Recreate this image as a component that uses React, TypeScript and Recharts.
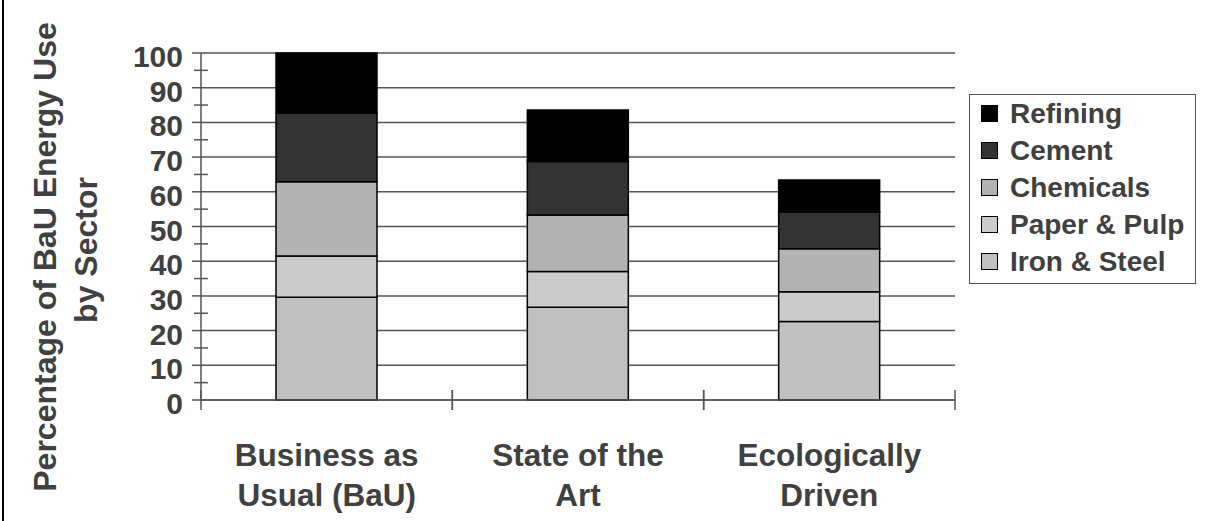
import React from "react";
import { BarChart, Bar, XAxis, YAxis, CartesianGrid, Legend } from "recharts";

// Scenario categories, each label split over two lines
const categoryLines: string[][] = [
  ["Business as", "Usual (BaU)"],
  ["State of the", "Art"],
  ["Ecologically", "Driven"],
];

// Share of BaU energy use by sector (%)
const ironSteel = [29.6, 26.7, 22.6];
const paperPulp = [11.9, 10.3, 8.6];
const chemicals = [21.4, 16.3, 12.4];
const cement = [19.8, 15.4, 10.6];
const refining = [17.3, 14.9, 9.2];

const sectorNames = ["Iron & Steel", "Paper & Pulp", "Chemicals", "Cement", "Refining"];
const sectorKeys = ["iron", "paper", "chem", "cement", "refining"];
const sectorColors = ["#c0c0c0", "#cbcbcb", "#b3b3b3", "#333333", "#000000"];

const yTicks = [0, 5, 10, 15, 20, 25, 30, 35, 40, 45, 50, 55, 60, 65, 70, 75, 80, 85, 90, 95, 100];
const yGridValues = [0, 10, 20, 30, 40, 50, 60, 70, 80, 90, 100];

const data = categoryLines.map((lines, i) => ({
  name: lines.join(" "),
  iron: ironSteel[i],
  paper: paperPulp[i],
  chem: chemicals[i],
  cement: cement[i],
  refining: refining[i],
}));

const FONT = "'Liberation Sans', Arial, Helvetica, sans-serif";
const TEXT = "#404040";
const AXIS = "#555555";

// Major ticks (labelled, every 10) cross to the left; minor ticks (every 5) straddle the axis
const YTick = (props: any) => {
  const { x, y, payload } = props;
  const v = payload.value;
  if (v % 10 === 0) {
    return (
      <g>
        <line x1={x - 9} x2={x} y1={y} y2={y} stroke={AXIS} strokeWidth={1.5} />
        <text x={x - 18} y={y + 14} textAnchor="end" fontFamily={FONT} fontWeight="bold" fontSize={30} fill={TEXT}>
          {v}
        </text>
      </g>
    );
  }
  return <line x1={x - 7} x2={x + 7} y1={y} y2={y} stroke={AXIS} strokeWidth={1.5} />;
};

// Category label plus tick marks at the band edges
const CategoryTick = (props: any) => {
  const { x, y, index, payload } = props;
  const half = payload && payload.offset ? payload.offset : 0;
  const lines = categoryLines[index] || [];
  return (
    <g>
      <line x1={x - half} x2={x - half} y1={y - 10} y2={y + 10} stroke={AXIS} strokeWidth={1.5} />
      <line x1={x + half} x2={x + half} y1={y - 10} y2={y + 10} stroke={AXIS} strokeWidth={1.5} />
      <text textAnchor="middle" fontFamily={FONT} fontWeight="bold" fontSize={31.5} fill={TEXT}>
        {lines.map((l, k) => (
          <tspan key={k} x={x} y={y + 66 + k * 40}>
            {l}
          </tspan>
        ))}
      </text>
    </g>
  );
};

const YTitle = () => (
  <g fontFamily={FONT} fontWeight="bold" fontSize={32} fill={TEXT} textAnchor="middle">
    <text transform="translate(56,257) rotate(-90)">Percentage of BaU Energy Use</text>
    <text transform="translate(97,250) rotate(-90)">by Sector</text>
  </g>
);

const LegendBox = () => {
  const order = [4, 3, 2, 1, 0];
  return (
    <div
      style={{
        border: "1.5px solid #555",
        width: 227,
        height: 190,
        boxSizing: "border-box",
        background: "#fff",
        paddingTop: 0,
      }}
    >
      {order.map((i) => (
        <div key={i} style={{ display: "flex", alignItems: "center", height: 37 }}>
          <div
            style={{
              width: 15,
              height: 15,
              marginLeft: 11,
              marginRight: 12,
              background: sectorColors[i],
              border: "1.5px solid #000",
            }}
          />
          <span style={{ fontFamily: FONT, fontWeight: "bold", fontSize: 28, color: TEXT, whiteSpace: "nowrap" }}>
            {sectorNames[i]}
          </span>
        </div>
      ))}
    </div>
  );
};

export default function App() {
  return (
    <div style={{ position: "absolute", left: 0, top: 0, width: 1207, height: 521, background: "#fff" }}>
      <div style={{ position: "absolute", left: 2, top: 0, width: 2, height: 521, background: "#000" }} />
      <BarChart
        width={1207}
        height={521}
        data={data}
        margin={{ top: 53, right: 252, bottom: 0, left: 0 }}
        barSize={101}
      >
        <CartesianGrid vertical={false} horizontalValues={yGridValues} stroke={AXIS} strokeWidth={1.5} />
        <XAxis
          dataKey="name"
          height={121}
          axisLine={{ stroke: AXIS, strokeWidth: 1.5 }}
          tickLine={false}
          tickSize={0}
          tickMargin={0}
          tick={<CategoryTick />}
          interval={0}
        />
        <YAxis
          width={201}
          domain={[0, 100]}
          ticks={yTicks}
          interval={0}
          axisLine={{ stroke: AXIS, strokeWidth: 1.5 }}
          tickLine={false}
          tickSize={0}
          tickMargin={0}
          tick={<YTick />}
          label={<YTitle />}
        />
        <Legend
          layout="horizontal"
          verticalAlign="middle"
          align="center"
          content={<LegendBox />}
          wrapperStyle={{ left: 969, top: 94, width: 227, height: 190 }}
        />
        {sectorKeys.map((k, i) => (
          <Bar
            key={k}
            dataKey={k}
            name={sectorNames[i]}
            stackId="s"
            fill={sectorColors[i]}
            stroke="#000"
            strokeWidth={1.5}
            isAnimationActive={false}
          />
        ))}
      </BarChart>
    </div>
  );
}
